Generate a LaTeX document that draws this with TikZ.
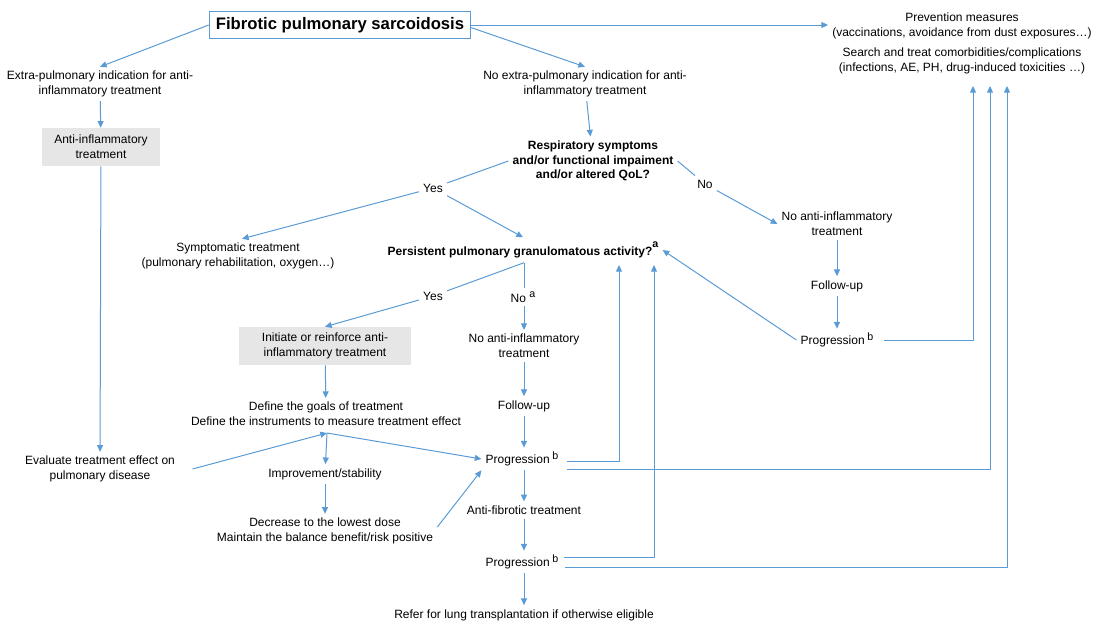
\documentclass[tikz,border=0pt]{standalone}
\usepackage{fontspec}
\setmainfont{Liberation Sans}
\usetikzlibrary{arrows.meta,calc}
\definecolor{flow}{RGB}{91,155,213}
\definecolor{boxgray}{RGB}{230,230,230}
\newcommand\mysup[2]{\raisebox{#1}{\fontsize{8}{8}\selectfont #2}}
\begin{document}
\begin{tikzpicture}[x=0.75pt,y=-0.75pt,
  txt/.style={font=\fontsize{9}{11}\selectfont, align=center, inner sep=3pt},
  btxt/.style={txt, font=\fontsize{9}{11}\selectfont\bfseries},
  graybox/.style={txt, fill=boxgray, minimum height=28.5pt},
  arr/.style={draw=flow, line width=0.75pt, -{Triangle[length=5pt,width=4.5pt]}},
  ln/.style={draw=flow, line width=0.75pt}]
\useasboundingbox (0,0) rectangle (1097,621);

% nodes
\node[draw=flow, line width=0.75pt, inner xsep=5pt, minimum height=20pt,
      font=\fontsize{12.5}{14}\selectfont\bfseries] (title) at (340,25) {Fibrotic pulmonary sarcoidosis};
\node[txt] (prev) at (962,26) {Prevention measures\\(vaccinations, avoidance from dust exposures…)};
\node[txt] (search) at (962,61) {Search and treat comorbidities/complications\\(infections, AE, PH, drug-induced toxicities …)};
\node[txt] (extra) at (100,84) {Extra-pulmonary indication for anti-\\inflammatory treatment};
\node[graybox, minimum width=88pt] (antiinf) at (101,147) {Anti-inflammatory\\treatment};
\node[txt] (eval) at (100,469) {Evaluate treatment effect on\\pulmonary disease};
\node[txt] (noextra) at (585,84) {No extra-pulmonary indication for anti-\\inflammatory treatment};
\node[btxt] (resp) at (593,161) {Respiratory symptoms\\and/or functional impaiment\\and/or altered QoL?};
\node[txt] (yes1) at (433,188) {Yes};
\node[txt] (no1) at (705,184) {No};
\node[txt] (sympt) at (238,256) {Symptomatic treatment\\(pulmonary rehabilitation, oxygen…)};
\node[btxt] (persist) at (523,250) {Persistent pulmonary granulomatous activity?\mysup{6.5pt}{\bfseries a}};
\node[txt] (noanti1) at (837,224) {No anti-inflammatory\\treatment};
\node[txt] (fu1) at (837,286) {Follow-up};
\node[txt] (prog1) at (837,340) {Progression\hspace{2pt}\mysup{3pt}{b}};
\node[txt] (yes2) at (433,296) {Yes};
\node[txt] (no2) at (523,297) {No \mysup{3.3pt}{a}};
\node[graybox, minimum width=129pt] (init) at (325,346) {Initiate or reinforce anti-\\inflammatory treatment};
\node[txt] (noanti2) at (524,346) {No anti-inflammatory\\treatment};
\node[txt] (fu2) at (524,406) {Follow-up};
\node[txt] (define) at (326,414) {Define the goals of treatment\\Define the instruments to measure treatment effect};
\node[txt] (improve) at (325,474) {Improvement/stability};
\node[txt] (decrease) at (325,531) {Decrease to the lowest dose\\Maintain the balance benefit/risk positive};
\node[txt] (prog2) at (522,459) {Progression\hspace{2pt}\mysup{3pt}{b}};
\node[txt] (antifib) at (524,510) {Anti-fibrotic treatment};
\node[txt] (prog3) at (522,562) {Progression\hspace{2pt}\mysup{3pt}{b}};
\node[txt] (refer) at (524,615) {Refer for lung transplantation if otherwise eligible};

% coordinates
\coordinate (t1) at (973,86);
\coordinate (t3) at (990,86);
\coordinate (t5) at (1007,86);
\coordinate (t2) at (619,265);
\coordinate (t4) at (654,265);
\coordinate (j2) at (524,262);
\coordinate (j3) at (327,433);

% connectors
\draw[arr] (title.west) -- (extra.north);
\draw[arr] ([yshift=-2pt]title.east) -- (noextra.north);
\draw[arr] (title.east) -- (title.east -| prev.west);
\draw[arr] (extra) -- (antiinf);
\draw[arr] (antiinf) -- (eval);
\draw[arr] (noextra) -- (resp);
\draw[ln] (resp.west) -- (yes1);
\draw[arr] (yes1) -- ([xshift=3pt]sympt.north);
\draw[arr] (yes1) -- (persist.north);
\draw[ln] (resp.east) -- (no1);
\draw[arr] (no1) -- (noanti1.west);
\draw[arr] (noanti1) -- (fu1);
\draw[arr] (fu1) -- (prog1);
\draw[arr] (prog1.west) -- (persist.east);
\draw[arr] ([xshift=5pt]prog1.east) -| (t1);
\draw[ln] (j2 |- persist.south) -- (j2 |- no2.north);
\draw[ln] (j2 |- persist.south) -- (yes2);
\draw[arr] (yes2) -- (init.north);
\draw[arr] (no2.south -| j2) -- (noanti2.north -| j2);
\draw[arr] (noanti2) -- (fu2);
\draw[arr] (fu2) -- (fu2 |- prog2.north);
\draw[arr] ([xshift=3pt,yshift=-2pt]prog2.east) -| (t2);
\draw[arr] ([xshift=3pt,yshift=-8pt]prog2.east) -| (t3);
\draw[arr] (prog2.south -| antifib) -- (antifib);
\draw[arr] (antifib) -- (antifib |- prog3.north);
\draw[arr] ([xshift=1pt,yshift=3.75pt]prog3.east) -| (t4);
\draw[arr] ([xshift=2pt,yshift=-3.75pt]prog3.east) -| (t5);
\draw[arr] (prog3.south -| refer) -- (refer);
\draw[arr] (init) -- (define);
\draw[arr] (j3) -- (improve);
\draw[arr] (j3) -- (prog2.west);
\draw[arr] ([xshift=10pt]eval.east) -- (j3);
\draw[arr] (improve) -- (decrease);
\draw[arr] ([yshift=3pt]decrease.east) -- (prog2.south west);
\end{tikzpicture}
\end{document}
